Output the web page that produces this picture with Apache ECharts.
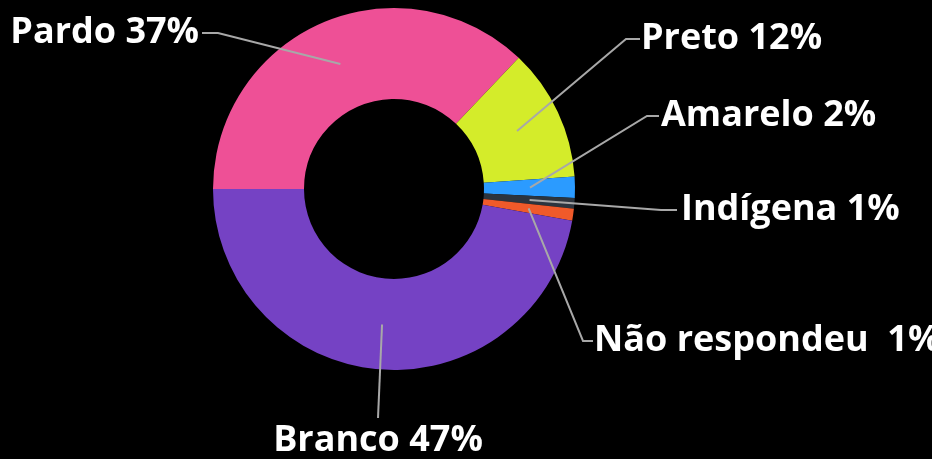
<!DOCTYPE html>
<html>
<head>
<meta charset="utf-8">
<script src="https://cdn.jsdelivr.net/npm/echarts@6/dist/echarts.min.js"></script>
<style>
html,body{margin:0;padding:0;background:#000;}
#chart{width:932px;height:459px;}
</style>
</head>
<body>
<div id="chart"></div>
<script>
// ---- data ----
const categories = ['Pardo', 'Preto', 'Amarelo', 'Indígena', 'Não respondeu', 'Branco'];
const values = [37.1, 11.8, 1.9, 0.95, 1.05, 47.2];
const labelTexts = ['Pardo 37%', 'Preto 12%', 'Amarelo 2%', 'Indígena 1%', 'Não respondeu  1%', 'Branco 47%'];

// ---- styles / layout ----
const colors = ['#EE5096', '#D4EC2A', '#2B9BFF', '#2C343E', '#F05A2A', '#7542C4'];
const center = [394, 189];
const radii = [90, 181];
const anchorR = 136;
// label anchor placement (layout only)
const labelPlacement = [
  { x: 199, y: 33, align: 'right', gap: 3, seg: 16 },
  { x: 641, y: 39, align: 'left', gap: 1, seg: 14 },
  { x: 661, y: 116, align: 'left', gap: 2, seg: 12 },
  { x: 681, y: 210, align: 'left', gap: 4, seg: 16 },
  { x: 594, y: 341, align: 'left', gap: 1, seg: 10 },
  { x: 378, y: 441, align: 'center', top: 418 }
];

const total = values.reduce((a, b) => a + b, 0);
function midAnchor(i) {
  let cum = 0;
  for (let k = 0; k < i; k++) cum += values[k];
  const ang = (180 - (cum + values[i] / 2) / total * 360) * Math.PI / 180;
  return [center[0] + anchorR * Math.cos(ang), center[1] - anchorR * Math.sin(ang)];
}

const pieData = categories.map((c, i) => ({ name: c, value: values[i] }));

const chart = echarts.init(document.getElementById('chart'));
chart.setOption({
  backgroundColor: '#000',
  animation: false,
  series: [{
    type: 'pie',
    z: 2,
    center: center,
    radius: radii,
    startAngle: 180,
    clockwise: true,
    silent: true,
    data: pieData.map((d, i) => ({ name: d.name, value: d.value, itemStyle: { color: colors[i] } })),
    label: { show: false },
    labelLine: { show: false }
  }, {
    type: 'pie',
    z: 5,
    center: center,
    radius: radii,
    startAngle: 180,
    clockwise: true,
    silent: true,
    avoidLabelOverlap: false,
    itemStyle: { color: 'rgba(0,0,0,0)' },
    data: pieData,
    label: {
      show: true,
      position: 'outside',
      color: '#fff',
      fontFamily: 'Open Sans',
      fontWeight: 'bold',
      fontSize: 36,
      formatter: p => labelTexts[p.dataIndex]
    },
    labelLine: { show: true, lineStyle: { color: '#A8A8A8', width: 2 } },
    labelLayout: function (params) {
      const i = params.dataIndex;
      const s = labelPlacement[i];
      const p0 = midAnchor(i);
      let pts;
      if (s.align === 'left') {
        pts = [p0, [s.x - s.gap - s.seg, s.y], [s.x - s.gap, s.y]];
      } else if (s.align === 'right') {
        pts = [p0, [s.x + s.gap + s.seg, s.y], [s.x + s.gap, s.y]];
      } else {
        pts = [p0, [s.x, s.top], [s.x, s.top]];
      }
      return { x: s.x, y: s.y, align: s.align, verticalAlign: 'middle', labelLinePoints: pts };
    }
  }]
});
</script>
</body>
</html>
